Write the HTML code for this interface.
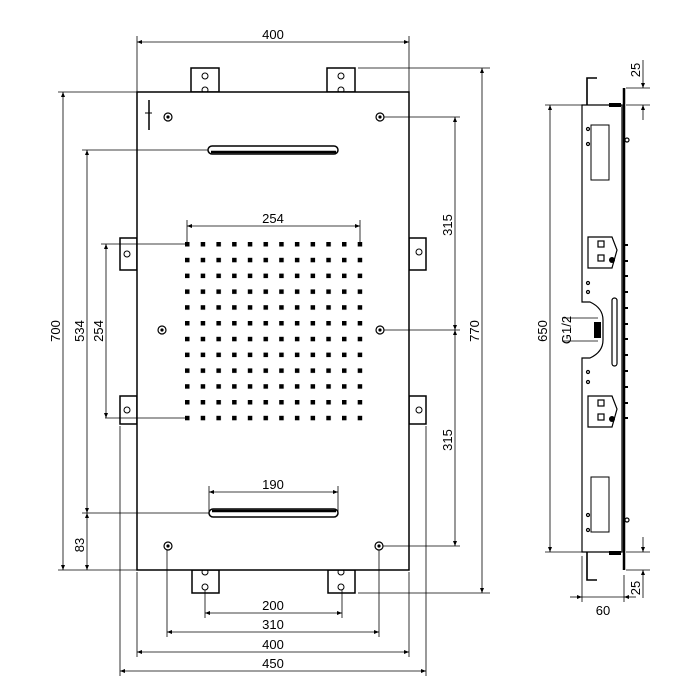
<!DOCTYPE html>
<html><head><meta charset="utf-8"><style>
html,body{margin:0;padding:0;background:#fff}
svg{display:block}
text{font-family:"Liberation Sans",Arial,sans-serif;font-size:13px;fill:#000}
</style></head><body>
<svg width="700" height="700" viewBox="0 0 700 700" xmlns="http://www.w3.org/2000/svg">
<defs>
<marker id="a" viewBox="0 0 10 10" refX="10" refY="5" markerWidth="8" markerHeight="5" markerUnits="userSpaceOnUse" orient="auto-start-reverse"><path d="M0,1L10,5L0,9z" fill="#000"/></marker>
<pattern id="dots" x="185" y="242" width="15.7" height="15.8" patternUnits="userSpaceOnUse"><rect x="0" y="0" width="4.5" height="4.5" fill="#000"/></pattern>
</defs>
<g stroke="#000" fill="none" stroke-width="1">
<rect x="191" y="68" width="28" height="24" fill="#fff" stroke-width="1.5"/>
<rect x="327" y="68" width="28" height="24" fill="#fff" stroke-width="1.5"/>
<circle cx="205" cy="76" r="3"/><circle cx="205" cy="90" r="3"/>
<circle cx="341" cy="76" r="3"/><circle cx="341" cy="90" r="3"/>
<rect x="192" y="570" width="27" height="23" fill="#fff" stroke-width="1.5"/>
<rect x="328" y="570" width="27" height="23" fill="#fff" stroke-width="1.5"/>
<circle cx="205" cy="572" r="3"/><circle cx="205" cy="587" r="3"/>
<circle cx="341" cy="572" r="3"/><circle cx="341" cy="587" r="3"/>
<rect x="120" y="238" width="17" height="32" stroke-width="1.5"/>
<rect x="120" y="396" width="17" height="28" stroke-width="1.5"/>
<rect x="409" y="238" width="17" height="32" stroke-width="1.5"/>
<rect x="409" y="396" width="17" height="28" stroke-width="1.5"/>
<circle cx="127" cy="254" r="3"/><circle cx="127" cy="410" r="3"/>
<circle cx="419" cy="252" r="3"/><circle cx="419" cy="410" r="3"/>
<rect x="137" y="92" width="272" height="478" fill="#fff" stroke-width="1.5"/>
<line x1="149" y1="100" x2="149" y2="130" stroke-width="1.5"/><line x1="145" y1="113" x2="152" y2="113"/>
<g stroke-width="1.2">
<circle cx="168" cy="117" r="4"/><circle cx="380" cy="117" r="4"/>
<circle cx="162" cy="330" r="4"/><circle cx="380" cy="330" r="4"/>
<circle cx="168" cy="546" r="4"/><circle cx="379" cy="546" r="4"/>
</g>
<g fill="#000" stroke="none">
<circle cx="168" cy="117" r="1.6"/><circle cx="380" cy="117" r="1.6"/>
<circle cx="162" cy="330" r="1.6"/><circle cx="380" cy="330" r="1.6"/>
<circle cx="168" cy="546" r="1.6"/><circle cx="379" cy="546" r="1.6"/>
</g>
<rect x="208" y="146" width="130" height="8" rx="4" stroke-width="1.5"/>
<line x1="211" y1="152" x2="336" y2="152" stroke-width="2.5"/>
<rect x="209" y="509" width="129" height="8" rx="4" stroke-width="1.5"/>
<line x1="212" y1="511" x2="336" y2="511" stroke-width="2.5"/>
</g>
<rect x="185" y="242" width="180" height="180" fill="url(#dots)"/>
<g stroke="#000" stroke-width="0.8" fill="none">
<line x1="137" y1="36" x2="137" y2="92"/><line x1="409" y1="36" x2="409" y2="92"/>
<line x1="137" y1="42" x2="409" y2="42" marker-start="url(#a)" marker-end="url(#a)"/>
<line x1="187" y1="220" x2="187" y2="244"/><line x1="360" y1="220" x2="360" y2="244"/>
<line x1="187" y1="226" x2="360" y2="226" marker-start="url(#a)" marker-end="url(#a)"/>
<line x1="209" y1="486" x2="209" y2="512"/><line x1="338" y1="486" x2="338" y2="512"/>
<line x1="209" y1="492" x2="338" y2="492" marker-start="url(#a)" marker-end="url(#a)"/>
<line x1="205" y1="590" x2="205" y2="618"/><line x1="342" y1="590" x2="342" y2="618"/>
<line x1="205" y1="613" x2="342" y2="613" marker-start="url(#a)" marker-end="url(#a)"/>
<line x1="167" y1="550" x2="167" y2="637"/><line x1="379" y1="550" x2="379" y2="637"/>
<line x1="167" y1="632" x2="379" y2="632" marker-start="url(#a)" marker-end="url(#a)"/>
<line x1="137" y1="572" x2="137" y2="657"/><line x1="409" y1="572" x2="409" y2="657"/>
<line x1="137" y1="652" x2="409" y2="652" marker-start="url(#a)" marker-end="url(#a)"/>
<line x1="120" y1="426" x2="120" y2="676"/><line x1="426" y1="426" x2="426" y2="676"/>
<line x1="120" y1="671" x2="426" y2="671" marker-start="url(#a)" marker-end="url(#a)"/>
<line x1="58" y1="92" x2="137" y2="92"/><line x1="58" y1="570" x2="137" y2="570"/>
<line x1="63" y1="92" x2="63" y2="570" marker-start="url(#a)" marker-end="url(#a)"/>
<line x1="82" y1="150" x2="208" y2="150"/><line x1="82" y1="513" x2="209" y2="513"/>
<line x1="87" y1="150" x2="87" y2="513" marker-start="url(#a)" marker-end="url(#a)"/>
<line x1="87" y1="513" x2="87" y2="570" marker-start="url(#a)" marker-end="url(#a)"/>
<line x1="101" y1="244" x2="187" y2="244"/><line x1="105" y1="418" x2="187" y2="418"/>
<line x1="106" y1="244" x2="106" y2="418" marker-start="url(#a)" marker-end="url(#a)"/>
<line x1="358" y1="68" x2="490" y2="68"/><line x1="358" y1="593" x2="490" y2="593"/>
<line x1="482" y1="68" x2="482" y2="593" marker-start="url(#a)" marker-end="url(#a)"/>
<line x1="384" y1="117" x2="460" y2="117"/><line x1="384" y1="330" x2="460" y2="330"/><line x1="383" y1="546" x2="460" y2="546"/>
<line x1="455" y1="117" x2="455" y2="330" marker-start="url(#a)" marker-end="url(#a)"/>
<line x1="455" y1="330" x2="455" y2="546" marker-start="url(#a)" marker-end="url(#a)"/>
<line x1="545" y1="105" x2="582" y2="105"/><line x1="545" y1="552" x2="582" y2="552"/>
<line x1="550" y1="105" x2="550" y2="552" marker-start="url(#a)" marker-end="url(#a)"/>
<line x1="626" y1="88" x2="650" y2="88"/><line x1="626" y1="105" x2="650" y2="105"/>
<line x1="643" y1="60" x2="643" y2="88" marker-end="url(#a)"/><line x1="643" y1="120" x2="643" y2="105" marker-end="url(#a)"/>
<line x1="626" y1="552" x2="650" y2="552"/><line x1="626" y1="570" x2="650" y2="570"/>
<line x1="643" y1="537" x2="643" y2="552" marker-end="url(#a)"/><line x1="643" y1="598" x2="643" y2="570" marker-end="url(#a)"/>
<line x1="582" y1="556" x2="582" y2="602"/><line x1="624" y1="575" x2="624" y2="602"/>
<line x1="570" y1="597" x2="582" y2="597" marker-end="url(#a)"/><line x1="636" y1="597" x2="624" y2="597" marker-end="url(#a)"/>
<line x1="582" y1="597" x2="624" y2="597"/>
<line x1="562" y1="318" x2="598" y2="318"/><line x1="562" y1="341" x2="598" y2="341"/>
</g>
<g stroke="#000" fill="none" stroke-width="1.2">
<path d="M582,105 L622,105 L622,552 L582,552 L582,358 L590,358 Q603,352 603,340 L603,320 Q603,308 590,302 L582,302 Z" fill="#fff"/>
<path d="M597,78 L587,78 L587,105" stroke-width="1.6"/>
<path d="M597,580 L587,580 L587,552" stroke-width="1.6"/>
<line x1="624" y1="88" x2="624" y2="570" stroke-width="2.5"/>
<rect x="591" y="125" width="18" height="55" stroke-width="1"/>
<rect x="591" y="477" width="18" height="55" stroke-width="1"/>
<path d="M588,237 L612,237 L617,250 L612,268 L588,268 Z"/>
<path d="M588,396 L612,396 L617,409 L612,427 L588,427 Z"/>
<rect x="598" y="241" width="6" height="6"/><rect x="598" y="255" width="6" height="6"/>
<rect x="598" y="400" width="6" height="6"/><rect x="598" y="414" width="6" height="6"/>
<rect x="612" y="298" width="5" height="68" rx="2.5"/>
<circle cx="588" cy="129" r="1.5"/><circle cx="588" cy="144" r="1.5"/>
<circle cx="588" cy="283" r="1.5"/><circle cx="588" cy="292" r="1.5"/>
<circle cx="588" cy="372" r="1.5"/><circle cx="588" cy="382" r="1.5"/>
<circle cx="588" cy="515" r="1.5"/><circle cx="588" cy="530" r="1.5"/>
<circle cx="627" cy="140" r="2"/><circle cx="627" cy="520" r="2"/>
</g>
<g fill="#000">
<rect x="594" y="322" width="7" height="16"/>
<rect x="609" y="103" width="12" height="4"/><rect x="609" y="551" width="12" height="4"/>
<circle cx="612" cy="260" r="3"/><circle cx="612" cy="419" r="3"/>
<rect x="624" y="244" width="4" height="2"/><rect x="624" y="260" width="4" height="2"/><rect x="624" y="275" width="4" height="2"/><rect x="624" y="291" width="4" height="2"/><rect x="624" y="307" width="4" height="2"/><rect x="624" y="323" width="4" height="2"/><rect x="624" y="338" width="4" height="2"/><rect x="624" y="354" width="4" height="2"/><rect x="624" y="370" width="4" height="2"/><rect x="624" y="386" width="4" height="2"/><rect x="624" y="402" width="4" height="2"/><rect x="624" y="417" width="4" height="2"/>
</g>
<text x="273" y="39" text-anchor="middle">400</text>
<text x="273" y="223" text-anchor="middle">254</text>
<text x="273" y="489" text-anchor="middle">190</text>
<text x="273" y="610" text-anchor="middle">200</text>
<text x="273" y="629" text-anchor="middle">310</text>
<text x="273" y="649" text-anchor="middle">400</text>
<text x="273" y="668" text-anchor="middle">450</text>
<text transform="translate(60,331) rotate(-90)" text-anchor="middle">700</text>
<text transform="translate(84,331) rotate(-90)" text-anchor="middle">534</text>
<text transform="translate(103,331) rotate(-90)" text-anchor="middle">254</text>
<text transform="translate(84,545) rotate(-90)" text-anchor="middle">83</text>
<text transform="translate(452,225) rotate(-90)" text-anchor="middle">315</text>
<text transform="translate(452,440) rotate(-90)" text-anchor="middle">315</text>
<text transform="translate(479,331) rotate(-90)" text-anchor="middle">770</text>
<text transform="translate(547,331) rotate(-90)" text-anchor="middle">650</text>
<text transform="translate(571,330) rotate(-90)" text-anchor="middle">G1/2</text>
<text transform="translate(640,70) rotate(-90)" text-anchor="middle">25</text>
<text transform="translate(640,588) rotate(-90)" text-anchor="middle">25</text>
<text x="603" y="615" text-anchor="middle">60</text>
</svg>
</body></html>
